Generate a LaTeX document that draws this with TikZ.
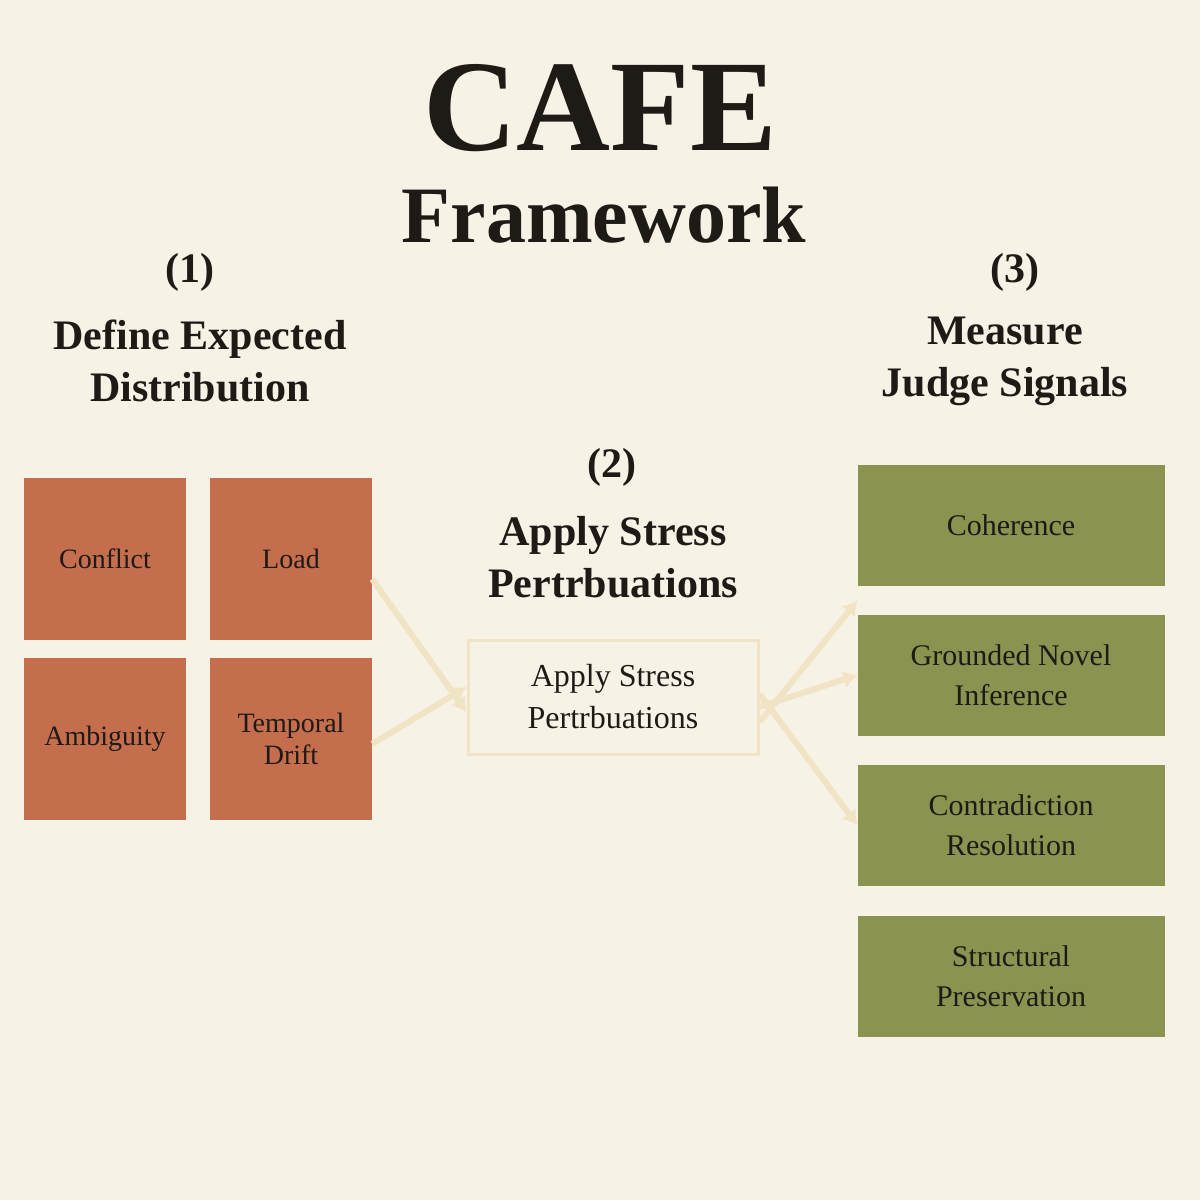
\documentclass[tikz,border=0pt]{standalone}
\usepackage{fontspec}
\setmainfont{Liberation Serif}
\usetikzlibrary{arrows.meta}
\definecolor{bg}{HTML}{F7F2E6}
\definecolor{org}{HTML}{C46E4E}
\definecolor{grn}{HTML}{8A934F}
\definecolor{pale}{HTML}{F0E4C4}
\definecolor{ink}{HTML}{1E1A16}
\begin{document}
\begin{tikzpicture}[x=1pt,y=-1pt,
 ob/.style={fill=org,draw=none,minimum width=162pt,minimum height=162pt,align=center,text=ink,font=\fontsize{28}{32}\selectfont},
 gb/.style={fill=grn,draw=none,minimum width=307pt,minimum height=121pt,align=center,text=ink,font=\fontsize{30}{40}\selectfont},
 hd/.style={align=center,text=ink,font=\bfseries\fontsize{42}{52}\selectfont},
 ar/.style={draw=pale,line width=6pt,-{Latex[length=14pt,width=18pt]}}]
\useasboundingbox[fill=bg] (0,0) rectangle (1200,1200);
\node[text=ink,font=\bfseries\fontsize{130}{130}\selectfont] (t1) at (600,108) {CAFE};
\node[text=ink,font=\bfseries\fontsize{80}{80}\selectfont] (t2) at (604,215) {Framework};
\node[hd] (h1a) at (190,272) {(1)};
\node[hd] (h1) at (200,361) {Define Expected\\Distribution};
\node[hd] (h2a) at (612,467) {(2)};
\node[hd] (h2) at (613,557) {Apply Stress\\Pertrbuations};
\node[hd] (h3a) at (1015,272) {(3)};
\node[hd] (h3) at (1005,361) {Measure\\Judge Signals};
\node[ob] (c) at (105,559) {Conflict};
\node[ob] (l) at (291,559) {Load};
\node[ob] (a) at (105,739) {Ambiguity};
\node[ob] (d) at (291,739) {Temporal\\Drift};
\node[draw=pale,line width=3pt,minimum width=290pt,minimum height=114pt,align=center,text=ink,font=\fontsize{32}{42}\selectfont] (m) at (613,697) {Apply Stress\\Pertrbuations};
\node[gb] (g1) at (1011,525) {Coherence};
\node[gb] (g2) at (1011,675) {Grounded Novel\\Inference};
\node[gb] (g3) at (1011,825) {Contradiction\\Resolution};
\node[gb] (g4) at (1011,976) {Structural\\Preservation};
\draw[ar] (l.east) ++(0,20) -- ([yshift=-15pt]m.west);
\draw[ar] ([yshift=-5pt]d.east) -- ([yshift=10pt]m.west);
\draw[ar] ([yshift=-25pt]m.east) -- ([yshift=-15pt]g1.south west);
\draw[ar] ([yshift=-10pt]m.east) -- (g2.west);
\draw[ar] ([yshift=3pt]m.east) -- ([yshift=0pt]g3.west);
\end{tikzpicture}
\end{document}
